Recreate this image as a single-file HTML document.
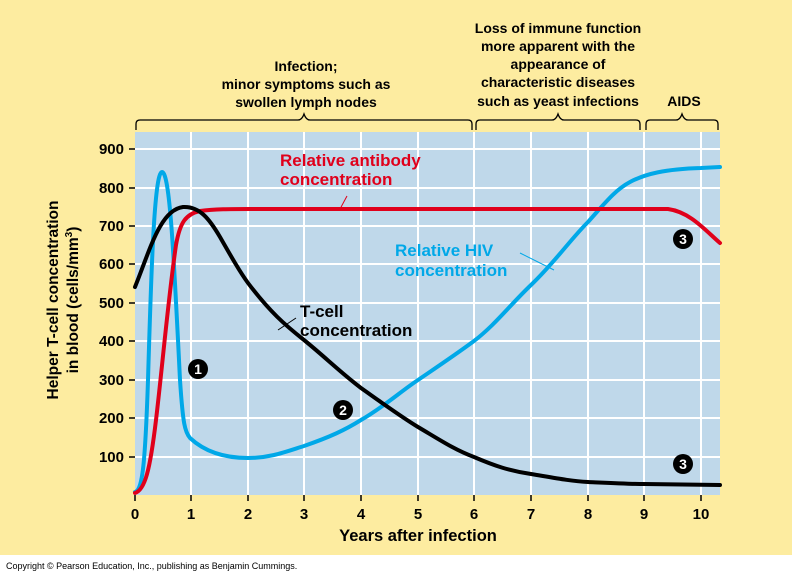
<!DOCTYPE html>
<html><head><meta charset="utf-8"><style>
body{margin:0;width:800px;height:577px;background:#fff;overflow:hidden;font-family:"Liberation Sans",Arial,sans-serif}
</style></head><body>
<svg width="800" height="577" viewBox="0 0 800 577" xmlns="http://www.w3.org/2000/svg" font-family="Liberation Sans, Arial, sans-serif">
<rect x="0" y="0" width="792" height="555" fill="#fdeca0"/>
<rect x="135" y="132" width="585" height="363" fill="#bfd8ea"/>
<g stroke="#fff" stroke-width="2">
<line x1="191" y1="132" x2="191" y2="495"/><line x1="248" y1="132" x2="248" y2="495"/><line x1="304" y1="132" x2="304" y2="495"/><line x1="361" y1="132" x2="361" y2="495"/><line x1="418" y1="132" x2="418" y2="495"/><line x1="474" y1="132" x2="474" y2="495"/><line x1="531" y1="132" x2="531" y2="495"/><line x1="588" y1="132" x2="588" y2="495"/><line x1="644" y1="132" x2="644" y2="495"/><line x1="701" y1="132" x2="701" y2="495"/>
<line x1="135" y1="149" x2="720" y2="149"/><line x1="135" y1="188" x2="720" y2="188"/><line x1="135" y1="226" x2="720" y2="226"/><line x1="135" y1="264" x2="720" y2="264"/><line x1="135" y1="303" x2="720" y2="303"/><line x1="135" y1="341" x2="720" y2="341"/><line x1="135" y1="380" x2="720" y2="380"/><line x1="135" y1="418" x2="720" y2="418"/><line x1="135" y1="457" x2="720" y2="457"/>
</g>
<g stroke="#000" stroke-width="1.5">
<line x1="135" y1="495" x2="135" y2="501"/><line x1="191" y1="495" x2="191" y2="501"/><line x1="248" y1="495" x2="248" y2="501"/><line x1="304" y1="495" x2="304" y2="501"/><line x1="361" y1="495" x2="361" y2="501"/><line x1="418" y1="495" x2="418" y2="501"/><line x1="474" y1="495" x2="474" y2="501"/><line x1="531" y1="495" x2="531" y2="501"/><line x1="588" y1="495" x2="588" y2="501"/><line x1="644" y1="495" x2="644" y2="501"/><line x1="701" y1="495" x2="701" y2="501"/>
<line x1="129" y1="149" x2="135" y2="149"/><line x1="129" y1="188" x2="135" y2="188"/><line x1="129" y1="226" x2="135" y2="226"/><line x1="129" y1="264" x2="135" y2="264"/><line x1="129" y1="303" x2="135" y2="303"/><line x1="129" y1="341" x2="135" y2="341"/><line x1="129" y1="380" x2="135" y2="380"/><line x1="129" y1="418" x2="135" y2="418"/><line x1="129" y1="457" x2="135" y2="457"/>
</g>
<g font-size="15" font-weight="bold" text-anchor="end">
<text x="124" y="154">900</text><text x="124" y="193">800</text><text x="124" y="231">700</text><text x="124" y="269">600</text><text x="124" y="308">500</text><text x="124" y="346">400</text><text x="124" y="385">300</text><text x="124" y="423">200</text><text x="124" y="462">100</text>
</g>
<g font-size="15" font-weight="bold" text-anchor="middle">
<text x="135" y="519">0</text><text x="191" y="519">1</text><text x="248" y="519">2</text><text x="304" y="519">3</text><text x="361" y="519">4</text><text x="418" y="519">5</text><text x="474" y="519">6</text><text x="531" y="519">7</text><text x="588" y="519">8</text><text x="644" y="519">9</text><text x="701" y="519">10</text>
<text x="418" y="541" font-size="16.5">Years after infection</text>
</g>
<text transform="translate(58,300) rotate(-90)" font-size="15.5" font-weight="bold" text-anchor="middle">Helper T-cell concentration</text>
<text transform="translate(78,300) rotate(-90)" font-size="15.5" font-weight="bold" text-anchor="middle">in blood (cells/mm<tspan font-size="10" dy="-6">3</tspan><tspan dy="6">)</tspan></text>
<g fill="none" stroke="#000" stroke-width="1.3">
<path d="M136,130 v-6 q0,-4 4,-4 h158 q4,0 6,-6 q2,6 6,6 h158 q4,0 4,4 v6"/>
<path d="M476,130 v-6 q0,-4 4,-4 h72 q4,0 6,-6 q2,6 6,6 h72 q4,0 4,4 v6"/>
<path d="M646,130 v-6 q0,-4 4,-4 h26 q4,0 6,-6 q2,6 6,6 h26 q4,0 4,4 v6"/>
</g>
<g font-size="14" font-weight="bold" text-anchor="middle">
<text x="306" y="71">Infection;</text><text x="306" y="89">minor symptoms such as</text><text x="306" y="107">swollen lymph nodes</text>
<text x="558" y="33">Loss of immune function</text><text x="558" y="51">more apparent with the</text><text x="558" y="69">appearance of</text><text x="558" y="87">characteristic diseases</text><text x="558" y="106">such as yeast infections</text>
<text x="684" y="106">AIDS</text>
</g>
<g fill="none" stroke-width="4" stroke-linejoin="round" stroke-linecap="round">
<path stroke="#00a8e8" d="M135,492 C142,490 145,470 148,380 C151,280 154,172 162,172 C170,172 174,260 180,380 C183,425 185,432 190,438 C205,452 225,458 248,458 C270,458 285,452 304,446 C330,437 345,430 361,420 C385,406 400,392 418,380 C440,365 455,355 474,341 C495,325 510,305 531,285 C555,262 570,240 588,222 C605,203 615,190 630,182 C645,174 665,169 701,168 L720,167"/>
<path stroke="#e0001b" d="M135,493 C145,490 150,470 156,420 C162,370 168,300 176,245 C180,222 186,214 200,211 C215,209 230,209 250,209 L668,209 C690,212 705,230 720,243"/>
<path stroke="#000" d="M135,287 C150,250 160,210 183,207 C200,206 210,220 220,237 C232,258 240,272 248,283 C270,312 285,325 304,340 C325,357 340,372 361,388 C385,405 400,416 418,427 C440,440 455,450 474,457 C495,466 510,471 531,474 C555,478 570,481 588,482 C610,483 630,484 644,484 L720,485"/>
</g>
<g fill="none" stroke-width="1">
<line x1="347" y1="196" x2="340" y2="209" stroke="#e0001b"/>
<line x1="520" y1="253" x2="554" y2="270" stroke="#00a8e8"/>
<line x1="296" y1="318" x2="278" y2="330" stroke="#000"/>
</g>
<g font-size="17" font-weight="bold">
<text x="280" y="166" fill="#e0001b">Relative antibody</text><text x="280" y="185" fill="#e0001b">concentration</text>
<text x="395" y="256" fill="#00a8e8">Relative HIV</text><text x="395" y="276" fill="#00a8e8">concentration</text>
<text x="300" y="317" fill="#000">T-cell</text><text x="300" y="336" fill="#000">concentration</text>
</g>
<g font-size="14" font-weight="bold" text-anchor="middle">
<circle cx="198" cy="369" r="10"/><text x="198" y="374" fill="#fff">1</text>
<circle cx="343" cy="410" r="10"/><text x="343" y="415" fill="#fff">2</text>
<circle cx="683" cy="239" r="10"/><text x="683" y="244" fill="#fff">3</text>
<circle cx="683" cy="464" r="10"/><text x="683" y="469" fill="#fff">3</text>
</g>
<text x="6" y="569" font-size="9">Copyright © Pearson Education, Inc., publishing as Benjamin Cummings.</text>
</svg>
</body></html>
